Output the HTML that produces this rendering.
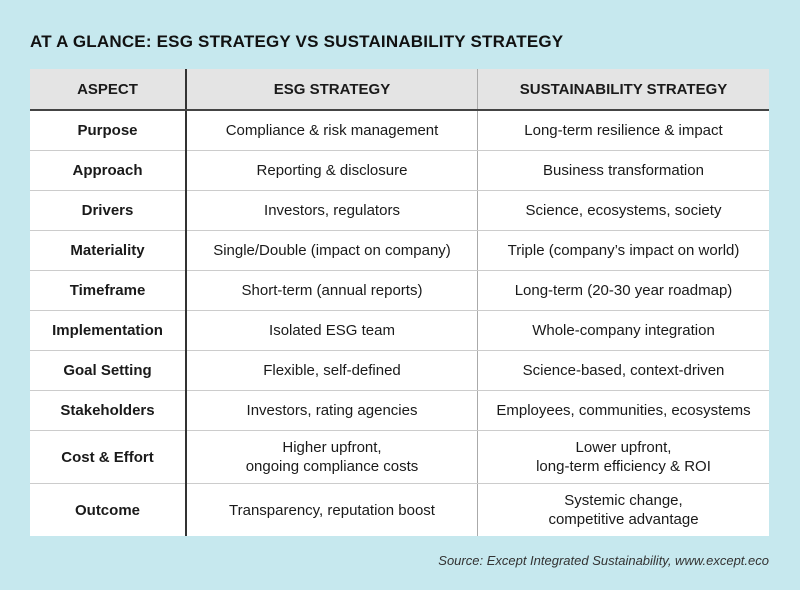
<!DOCTYPE html>
<html><head><meta charset="utf-8"><style>
body{margin:0;width:800px;height:590px;background:#c6e8ee;font-family:"Liberation Sans",sans-serif;position:relative;overflow:hidden;color:#1a1a1a}
.t{position:absolute;left:30px;top:32px;font-weight:bold;font-size:17px;letter-spacing:0.2px;color:#111}
table{position:absolute;left:30px;top:69px;width:739px;border-collapse:collapse;background:#fff;font-size:15px}
td,th{text-align:center;padding:0;border-right:1px solid #aaa;border-bottom:1px solid #ccc;line-height:19px}
th{background:#e4e4e4;height:40px;font-size:15px;border-bottom:2px solid #444}
td:first-child,th:first-child{width:155px;border-right:2px solid #333;font-weight:bold}
td:last-child,th:last-child{border-right:none}
th:nth-child(2),td:nth-child(2){width:290px}
tr.r td{height:39px}
tr.d td{height:52px}
tr:last-child td{border-bottom:none}
.s{position:absolute;right:31px;top:553px;font-style:italic;font-size:13px;color:#333}
</style></head><body>
<div class="t">AT A GLANCE: ESG STRATEGY VS SUSTAINABILITY STRATEGY</div>
<table>
<tr><th>ASPECT</th><th>ESG STRATEGY</th><th>SUSTAINABILITY STRATEGY</th></tr>
<tr class="r"><td>Purpose</td><td>Compliance &amp; risk management</td><td>Long-term resilience &amp; impact</td></tr>
<tr class="r"><td>Approach</td><td>Reporting &amp; disclosure</td><td>Business transformation</td></tr>
<tr class="r"><td>Drivers</td><td>Investors, regulators</td><td>Science, ecosystems, society</td></tr>
<tr class="r"><td>Materiality</td><td>Single/Double (impact on company)</td><td>Triple (company’s impact on world)</td></tr>
<tr class="r"><td>Timeframe</td><td>Short-term (annual reports)</td><td>Long-term (20-30 year roadmap)</td></tr>
<tr class="r"><td>Implementation</td><td>Isolated ESG team</td><td>Whole-company integration</td></tr>
<tr class="r"><td>Goal Setting</td><td>Flexible, self-defined</td><td>Science-based, context-driven</td></tr>
<tr class="r"><td>Stakeholders</td><td>Investors, rating agencies</td><td>Employees, communities, ecosystems</td></tr>
<tr class="d"><td>Cost &amp; Effort</td><td>Higher upfront,<br>ongoing compliance costs</td><td>Lower upfront,<br>long-term efficiency &amp; ROI</td></tr>
<tr class="d"><td>Outcome</td><td>Transparency, reputation boost</td><td>Systemic change,<br>competitive advantage</td></tr>
</table>
<div class="s">Source: Except Integrated Sustainability, www.except.eco</div>
</body></html>
